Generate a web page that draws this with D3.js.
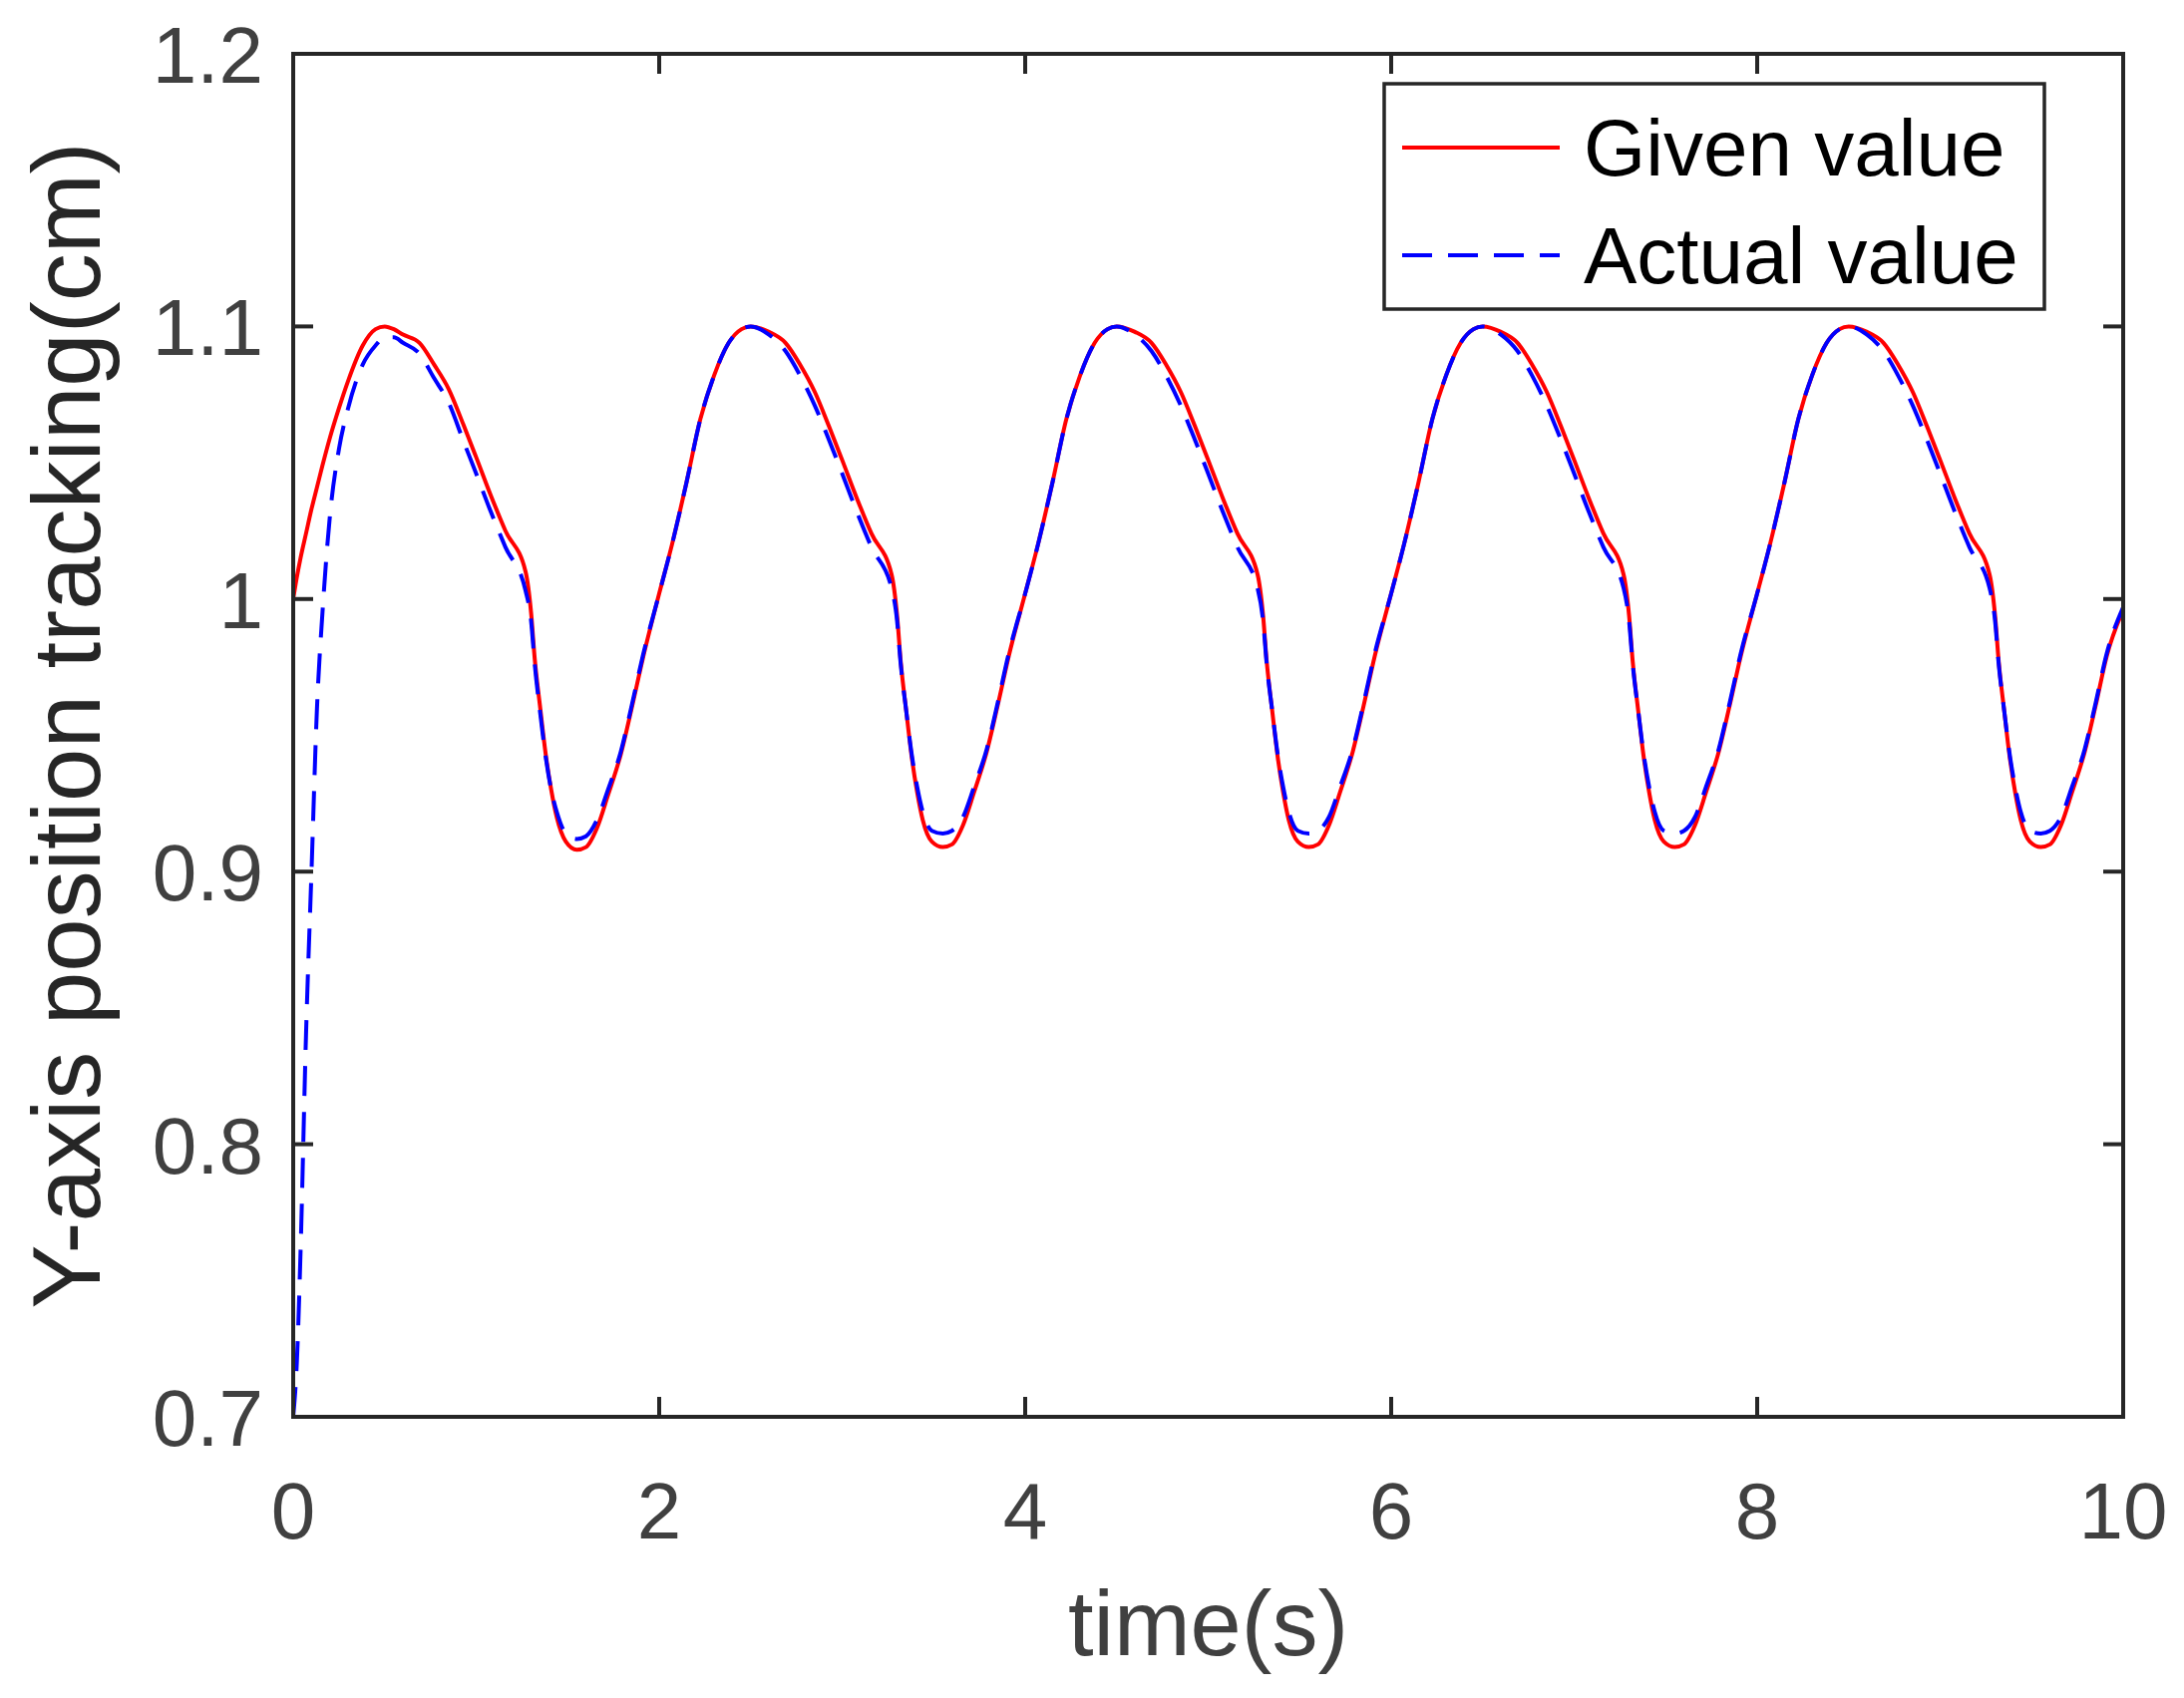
<!DOCTYPE html>
<html><head><meta charset="utf-8">
<script src="https://cdn.jsdelivr.net/npm/d3@7"></script>
<style>body{margin:0;background:#fff}</style></head>
<body><svg id="c" width="2190" height="1703"></svg>
<script>
const time = [
 0,0.02,0.04,0.07,0.1,0.13,0.16,0.2,0.25,0.3,0.38,0.45,0.5,0.55,0.6,0.69,0.77,0.85,0.93,1.0,1.08,1.16,1.27,1.3,1.32,1.35,1.38,1.41,1.44,1.49,1.55,1.6,1.66,1.72,1.79,1.85,1.91,
 2.0,2.07,2.15,2.225,2.3,2.38,2.45,2.5,2.6,2.69,2.77,2.85,2.93,3.0,3.08,3.16,3.27,3.3,3.32,3.35,3.38,3.41,3.44,3.49,3.55,3.6,3.66,3.72,3.79,3.85,3.91,
 4.0,4.07,4.15,4.225,4.3,4.38,4.45,4.5,4.6,4.69,4.77,4.85,4.93,5.0,5.08,5.16,5.27,5.3,5.32,5.35,5.38,5.41,5.44,5.49,5.55,5.6,5.66,5.72,5.79,5.85,5.91,
 6.0,6.07,6.15,6.225,6.3,6.38,6.45,6.5,6.6,6.69,6.77,6.85,6.93,7.0,7.08,7.16,7.27,7.3,7.32,7.35,7.38,7.41,7.44,7.49,7.55,7.6,7.66,7.72,7.79,7.85,7.91,
 8.0,8.07,8.15,8.225,8.3,8.38,8.45,8.5,8.6,8.69,8.77,8.85,8.93,9.0,9.08,9.16,9.27,9.3,9.32,9.35,9.38,9.41,9.44,9.49,9.55,9.6,9.66,9.72,9.79,9.85,9.91,10.0
];
const given = [
 1.000,1.008,1.015,1.024,1.033,1.041,1.049,1.059,1.070,1.080,1.093,1.099,1.100,1.099,1.097,1.094,1.086,1.077,1.064,1.052,1.038,1.025,1.010,0.995,0.978,0.960,0.943,0.930,0.920,0.911,0.908,0.909,0.916,0.928,0.943,0.960,0.978,
 1.002,1.020,1.043,1.066,1.082,1.094,1.099,1.100,1.098,1.094,1.086,1.076,1.063,1.051,1.037,1.024,1.009,0.994,0.977,0.959,0.942,0.929,0.919,0.911,0.909,0.910,0.917,0.929,0.944,0.961,0.979,
 1.002,1.020,1.043,1.066,1.082,1.094,1.099,1.100,1.098,1.094,1.086,1.076,1.063,1.051,1.037,1.024,1.009,0.994,0.977,0.959,0.942,0.929,0.919,0.911,0.909,0.910,0.917,0.929,0.944,0.961,0.979,
 1.002,1.020,1.043,1.066,1.082,1.094,1.099,1.100,1.098,1.094,1.086,1.076,1.063,1.051,1.037,1.024,1.009,0.994,0.977,0.959,0.942,0.929,0.919,0.911,0.909,0.910,0.917,0.929,0.944,0.961,0.979,
 1.002,1.020,1.043,1.066,1.082,1.094,1.099,1.100,1.098,1.094,1.086,1.076,1.063,1.051,1.037,1.024,1.009,0.994,0.977,0.959,0.942,0.929,0.919,0.911,0.909,0.910,0.917,0.929,0.944,0.961,0.979,0.996
];
const actual = [
 0.700,0.720,0.760,0.840,0.900,0.960,0.995,1.030,1.055,1.070,1.086,1.093,1.096,1.096,1.094,1.090,1.081,1.072,1.058,1.046,1.032,1.019,1.003,0.992,0.976,0.958,0.942,0.930,0.922,0.914,0.912,0.913,0.919,0.930,0.944,0.961,0.979,
 1.002,1.020,1.043,1.066,1.082,1.094,1.099,1.100,1.097,1.091,1.082,1.071,1.058,1.046,1.032,1.019,1.004,0.992,0.976,0.959,0.943,0.931,0.922,0.915,0.914,0.915,0.920,0.931,0.945,0.962,0.980,
 1.002,1.020,1.043,1.066,1.082,1.094,1.099,1.100,1.097,1.091,1.082,1.071,1.058,1.046,1.032,1.019,1.004,0.992,0.976,0.959,0.943,0.931,0.922,0.915,0.914,0.915,0.920,0.931,0.945,0.962,0.980,
 1.002,1.020,1.043,1.066,1.082,1.094,1.099,1.100,1.097,1.091,1.082,1.071,1.058,1.046,1.032,1.019,1.004,0.992,0.976,0.959,0.943,0.931,0.922,0.915,0.914,0.915,0.920,0.931,0.945,0.962,0.980,
 1.002,1.020,1.043,1.066,1.082,1.094,1.099,1.100,1.097,1.091,1.082,1.071,1.058,1.046,1.032,1.019,1.004,0.992,0.976,0.959,0.943,0.931,0.922,0.915,0.914,0.915,0.920,0.931,0.945,0.962,0.980,0.997
];
const xTicks = [0,2,4,6,8,10];
const yTicks = [0.7,0.8,0.9,1.0,1.1,1.2];
const yTickLabels = ["0.7","0.8","0.9","1","1.1","1.2"];
const seriesNames = ["Given value","Actual value"];

const L=294,R=2129,T=54,B=1421;
const svg=d3.select("#c");
const x=d3.scaleLinear().domain([0,10]).range([L,R]);
const y=d3.scaleLinear().domain([0.7,1.2]).range([B,T]);
const font="Arial, 'Liberation Sans', sans-serif";

svg.append("clipPath").attr("id","cp").append("rect").attr("x",L).attr("y",T).attr("width",R-L).attr("height",B-T);
const line=d3.line().x(d=>x(d[0])).y(d=>y(d[1])).curve(d3.curveMonotoneX);
const g=svg.append("g").attr("clip-path","url(#cp)");
g.append("path").datum(time.map((t,i)=>[t,given[i]])).attr("d",line).attr("fill","none").attr("stroke","#ff0000").attr("stroke-width",4);
g.append("path").datum(time.map((t,i)=>[t,actual[i]])).attr("d",line).attr("fill","none").attr("stroke","#0000ff").attr("stroke-width",4).attr("stroke-dasharray","30,16");

const ax=svg.append("g").attr("stroke","#262626").attr("stroke-width",4);
ax.append("rect").attr("x",L).attr("y",T).attr("width",R-L).attr("height",B-T).attr("fill","none");
const tl=20;
xTicks.forEach(v=>{
  ax.append("line").attr("x1",x(v)).attr("x2",x(v)).attr("y1",B).attr("y2",B-tl);
  ax.append("line").attr("x1",x(v)).attr("x2",x(v)).attr("y1",T).attr("y2",T+tl);
});
yTicks.forEach(v=>{
  ax.append("line").attr("y1",y(v)).attr("y2",y(v)).attr("x1",L).attr("x2",L+tl);
  ax.append("line").attr("y1",y(v)).attr("y2",y(v)).attr("x1",R).attr("x2",R-tl);
});
svg.append("g").selectAll("text").data(xTicks).join("text")
  .attr("x",d=>x(d)).attr("y",B+122).attr("text-anchor","middle")
  .attr("font-family",font).attr("font-size",80).attr("fill","#404040").text(d=>d);
svg.append("g").selectAll("text").data(yTicks).join("text")
  .attr("x",L-30).attr("y",d=>y(d)+29).attr("text-anchor","end")
  .attr("font-family",font).attr("font-size",80).attr("fill","#404040").text((d,i)=>yTickLabels[i]);
svg.append("text").attr("x",(L+R)/2).attr("y",1660).attr("text-anchor","middle")
  .attr("font-family",font).attr("font-size",92).attr("fill","#404040").text("time(s)");
svg.append("text").attr("transform",`translate(100,${(T+B)/2 - 10}) rotate(-90)`).attr("text-anchor","middle")
  .attr("font-family",font).attr("font-size",96).attr("fill","#262626").text("Y-axis position tracking(cm)");

const lg=svg.append("g");
lg.append("rect").attr("x",1388).attr("y",84).attr("width",662).attr("height",226).attr("fill","#fff").attr("stroke","#262626").attr("stroke-width",3.5);
const rows=[{c:"#ff0000",d:null,y:148},{c:"#0000ff",d:"30,16",y:256}];
rows.forEach((r,i)=>{
  lg.append("line").attr("x1",1406).attr("x2",1564).attr("y1",r.y).attr("y2",r.y).attr("stroke",r.c).attr("stroke-width",4).attr("stroke-dasharray",r.d);
  lg.append("text").attr("x",1588).attr("y",r.y+28).attr("font-family",font).attr("font-size",80).attr("fill","#000").text(seriesNames[i]);
});
</script></body></html>
